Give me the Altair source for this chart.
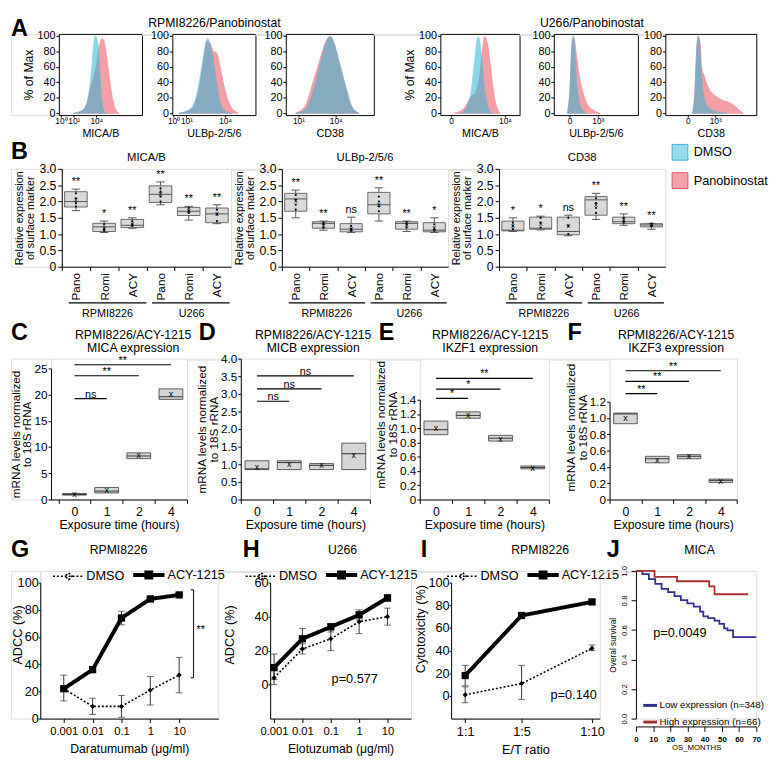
import altair as alt
import pandas as pd

FONT = "Liberation Sans"

# ======================= DATA =======================
# ---- A: flow cytometry overlays (x = position along displayed channel axis 0-100, y = % of Max)
A_xtitles = ["MICA/B", "ULBp-2/5/6", "CD38", "MICA/B", "ULBp-2/5/6", "CD38"]
A_tick_pos = [[2.5, 18, 45], [1.5, 17, 63.5], [14.4, 56.7], [13.6, 81.5], [18.6, 52.3], [24.7, 54.8]]
A_tick_lab = [["10⁰", "10¹", "10⁴"], ["10⁰", "10¹", "10⁴"], ["10¹", "10⁴"], ["0", "10⁴"], ["0", "10³"], ["0", "10³"]]
A_dmso_x = [
    [17, 27, 33, 37, 40, 42, 44, 46, 47.5, 49, 50.5, 52.5, 55, 58],
    [8, 22, 30, 36, 40, 42.4, 45.5, 49.4, 53.3, 57.3, 63, 71],
    [12, 23, 33, 40, 45.6, 50.4, 54.8, 60.4, 67.8, 75, 83],
    [26, 34.6, 38.7, 42.8, 46.1, 47.7, 50.2, 53.1, 56.4, 60.5, 65.4],
    [16, 19, 20.9, 22.9, 24.8, 26.7, 29.5, 33.3, 39],
    [30, 32.6, 34.4, 36.2, 38, 39.8, 42.7, 48, 57, 68],
]
A_dmso_y = [
    [0, 3, 11, 32, 64, 91, 100, 95, 85, 60, 32, 11, 2, 0],
    [0, 6, 27, 64, 89, 97, 89, 68, 40, 15, 3, 0],
    [0, 6, 36, 68, 91, 99, 91, 68, 36, 9, 0],
    [0, 11, 27, 64, 94, 99, 90, 60, 27, 7, 0],
    [0, 27, 80, 100, 88, 48, 20, 5, 0],
    [0, 27, 80, 100, 84, 48, 20, 7, 2, 0],
]
A_pano_x = [
    [19, 31, 39, 45, 48.6, 51.8, 53.7, 56.5, 60.4, 64.3, 68.2, 72.2],
    [8, 24, 32, 37.6, 41.6, 45.5, 49.4, 53.3, 57.3, 63, 69, 75, 79],
    [11, 22, 31, 38.5, 45.6, 50.4, 54.8, 60.4, 67.8, 75, 83],
    [18, 30.4, 38.7, 44.9, 49.8, 53.1, 56, 59.3, 63.4, 67.5, 71.6, 75.7],
    [16, 19, 21.7, 23.6, 26.7, 30.2, 35.3, 41.1, 48.8, 54.7],
    [30, 32.6, 34.8, 36.2, 38.4, 39.8, 42.7, 48, 53.4, 60.6, 71.3, 76.7, 82.1, 85.7],
]
A_pano_y = [
    [0, 6, 36, 60, 85, 96, 95, 80, 48, 20, 5, 0],
    [0, 6, 31, 68, 93, 90, 80, 78, 60, 31, 11, 3, 0],
    [0, 9, 40, 68, 93, 99, 90, 66, 34, 8, 0],
    [0, 7, 21, 27, 48, 80, 99, 90, 60, 25, 7, 0],
    [0, 27, 88, 98, 76, 48, 24, 9, 3, 0],
    [0, 31, 88, 99, 88, 60, 48, 31, 24, 18, 13, 9, 3, 0],
]
A_legend = ["DMSO", "Panobinostat"]

# ---- B: relative surface expression box plots
B_cells = ["RPMI8226", "U266"]
B_drugs = ["Pano", "Romi", "ACY", "Pano", "Romi", "ACY"]
B_titles = ["MICA/B", "ULBp-2/5/6", "CD38"]
B_lo = [[1.72, 1.05, 1.18, 1.90, 1.43, 1.32], [1.50, 1.12, 1.05, 1.40, 1.08, 1.05], [1.08, 1.13, 0.95, 1.45, 1.27, 1.15]]
B_q1 = [[1.83, 1.08, 1.20, 1.97, 1.57, 1.35], [1.70, 1.18, 1.07, 1.62, 1.15, 1.07], [1.10, 1.15, 0.98, 1.58, 1.32, 1.22]]
B_med = [[2.00, 1.22, 1.27, 2.22, 1.70, 1.62], [2.08, 1.33, 1.15, 1.90, 1.33, 1.12], [1.12, 1.18, 1.08, 2.05, 1.38, 1.28]]
B_q3 = [[2.30, 1.33, 1.45, 2.48, 1.82, 1.80], [2.25, 1.38, 1.32, 2.28, 1.38, 1.35], [1.40, 1.52, 1.52, 2.15, 1.52, 1.32]]
B_hi = [[2.38, 1.40, 1.50, 2.60, 1.85, 1.90], [2.35, 1.40, 1.52, 2.42, 1.40, 1.50], [1.50, 1.55, 1.58, 2.25, 1.62, 1.33]]
B_mean = [[2.05, 1.20, 1.32, 2.23, 1.70, 1.60], [2.00, 1.25, 1.15, 1.90, 1.28, 1.18], [1.25, 1.30, 1.25, 1.88, 1.42, 1.27]]
B_sig = [["**", "*", "**", "**", "**", "**"], ["**", "**", "ns", "**", "**", "*"], ["*", "*", "ns", "**", "**", "**"]]
B_dots = [
    [[2.25, 2.1, 1.95, 1.85], [1.3, 1.15, 1.1], [1.4, 1.3, 1.25], [2.4, 2.3, 2.15, 2.0], [1.8, 1.72, 1.65], [1.75, 1.6, 1.4]],
    [[2.2, 2.05, 1.9, 1.75], [1.35, 1.3, 1.2], [1.25, 1.15, 1.1], [2.15, 2.0, 1.85, 1.7], [1.37, 1.3, 1.2], [1.3, 1.15, 1.1]],
    [[1.35, 1.25, 1.15], [1.5, 1.35, 1.2], [1.5, 1.25, 1.0], [2.1, 1.95, 1.8, 1.65], [1.5, 1.4, 1.35], [1.32, 1.28, 1.25]],
]

# ---- C-F: mRNA levels after ACY-1215 exposure
CF_cats = ["0", "1", "2", "4"]
CF_gene = ["MICA expression", "MICB expression", "IKZF1 expression", "IKZF3 expression"]
CF_lo = [[0.85, 1.25, 7.8, 19.1], [0.85, 0.85, 0.85, 0.85], [0.91, 1.14, 0.82, 0.43], [0.93, 0.45, 0.50, 0.21]]
CF_hi = [[1.15, 2.3, 8.9, 21.1], [1.1, 1.1, 1.02, 1.6], [1.10, 1.23, 0.90, 0.47], [1.06, 0.53, 0.55, 0.25]]
CF_med = [[0.95, 1.6, 8.3, 19.6], [0.87, 1.05, 0.97, 1.3], [0.98, 1.18, 0.86, 0.45], [1.05, 0.50, 0.53, 0.235]]
CF_mean = [[1.0, 1.75, 8.4, 20.2], [0.93, 1.0, 0.97, 1.25], [1.0, 1.18, 0.85, 0.44], [1.0, 0.48, 0.53, 0.23]]
CF_sig_y = [[19.25, 23.6, 25.7], [2.79, 3.14, 3.51], [1.42, 1.55, 1.70], [1.30, 1.45, 1.58]]
CF_sig_txt = [["ns", "**", "**"], ["ns", "ns", "ns"], ["*", "*", "**"], ["**", "**", "**"]]
CF_yticks = [[0, 5, 10, 15, 20, 25], [0, 0.5, 1, 1.5, 2, 2.5, 3, 3.5, 4],
             [0, 0.2, 0.4, 0.6, 0.8, 1, 1.2, 1.4], [0, 0.2, 0.4, 0.6, 0.8, 1, 1.2]]

# ---- G-I: ADCC / cytotoxicity
SER = ["DMSO", "ACY-1215"]
G_x = [0.001, 0.01, 0.1, 1, 10]
G_dmso = [22, 9, 9, 21, 32]
G_dmso_lo = [13, 3, 1, 10, 19]
G_dmso_hi = [32, 15, 17, 31, 45]
G_acy = [22, 36, 74, 88, 91]
G_acy_lo = [21, 35, 69, 86, 90]
G_acy_hi = [23, 37, 79, 90, 92]
H_x = [0.001, 0.01, 0.1, 1, 10]
H_dmso = [4, 21, 27, 37, 40]
H_dmso_lo = [0, 18, 20, 30, 35]
H_dmso_hi = [9, 24, 33, 43, 45]
H_acy = [10, 27, 34, 41, 51]
H_acy_lo = [3, 21, 31, 38, 49]
H_acy_hi = [18, 33, 36, 44, 53]
I_x = [1, 5, 10]
I_lab = ["1:1", "1:5", "1:10"]
I_dmso = [1, 11, 42]
I_dmso_lo = [-6, -3, 40]
I_dmso_hi = [8, 27, 45]
I_acy = [18, 71, 83]
I_acy_lo = [9, 69, 81]
I_acy_hi = [27, 73, 85]

# ---- J: Kaplan-Meier (MICA)
J_groups = ["Low expression (n=348)", "High expression (n=66)"]
J_low_t = [0, 3.7, 7.5, 11.2, 14.9, 18.7, 22.4, 26.1, 29.9, 33.6, 37.3, 39.2, 42, 45.7, 48.5, 51.3, 53.2, 56.5, 70]
J_low_s = [1.0, 0.978, 0.945, 0.912, 0.879, 0.857, 0.829, 0.802, 0.78, 0.758, 0.725, 0.692, 0.681, 0.664, 0.642, 0.611, 0.598, 0.552, 0.552]
J_high_t = [0, 10.8, 23.9, 42.6, 45.7, 65.3]
J_high_s = [1.0, 0.96, 0.93, 0.895, 0.842, 0.842]

# ======================= HELPERS =======================
RES = dict(color="independent", fill="independent", stroke="independent", strokeDash="independent",
           strokeWidth="independent", shape="independent", size="independent")


def H(*c):
    return alt.hconcat(*c, spacing=0, bounds="flush").resolve_scale(**RES).resolve_legend(**RES)


SPD = pd.DataFrame({"s": [0]})


def sp(w, h=1):
    return alt.Chart(SPD).mark_point(opacity=0).encode(x=alt.value(0), y=alt.value(0)).properties(width=w, height=h)


def frame(w, h, above, below):
    # invisible left spacer that fixes the vertical extent of a row
    return alt.Chart(SPD).mark_rule(color="white", strokeWidth=0.5).encode(
        x=alt.value(0), y=alt.value(-above), y2=alt.value(h + below)).properties(width=w, height=h)


def txt(s, x, y, size=13, weight="normal", align="center", baseline="middle", color="black"):
    return alt.Chart(pd.DataFrame({"t": [s]})).mark_text(
        font=FONT, fontSize=size, fontWeight=weight, align=align, baseline=baseline, color=color
    ).encode(text="t:N", x=alt.value(x), y=alt.value(y))


def letter(s, x, y, baseline="middle"):
    return txt(s, x, y, size=24, weight="bold", align="left", baseline=baseline)


AXC = dict(domainColor="black", tickColor="black", labelColor="black", titleColor="black",
           grid=False, labelFont=FONT, titleFont=FONT, titleFontWeight="normal")

# ======================= PANEL A =======================
CYAN, PINK = "#2cb6d8", "#f0606e"
CYAN_L, RED_L = "#38b3d3", "#ea4858"
HA = 83


def hist_panel(k, w, ytitle, extra=()):
    dm = pd.DataFrame({"x": A_dmso_x[k], "y": A_dmso_y[k]}); dm["g"] = "DMSO"
    pn = pd.DataFrame({"x": A_pano_x[k], "y": A_pano_y[k]}); pn["g"] = "Panobinostat"
    pos, lab = A_tick_pos[k], A_tick_lab[k]
    lexpr = "[" + ",".join("'%s'" % s for s in lab) + "][indexof([" + ",".join(str(p) for p in pos) + "], datum.value)]"
    xa = alt.Axis(values=pos, labelExpr=lexpr, title=A_xtitles[k], labelFontSize=8.5, titleFontSize=11,
                  tickSize=2, labelPadding=0, titlePadding=2.5, domain=False, labelOverlap=False,
                  labelFlush=False, **AXC)
    ya = alt.Axis(values=[0, 20, 40, 60, 80, 100], title=ytitle, labelFontSize=11, titleFontSize=12.5,
                  tickSize=3, labelPadding=1, titlePadding=2, domain=False, **AXC)
    X = alt.X("x:Q", scale=alt.Scale(domain=[0, 100], nice=False, zero=False), axis=xa)
    Y = alt.Y("y:Q", stack=None, scale=alt.Scale(domain=[-2.4, 102.4], nice=False, zero=False), axis=ya)
    col = alt.Color("g:N", scale=alt.Scale(domain=A_legend, range=[CYAN, PINK]), legend=None)
    stk = alt.Stroke("g:N", scale=alt.Scale(domain=A_legend, range=[CYAN_L, RED_L]), legend=None)
    red = alt.Chart(pn).mark_area(opacity=0.6, interpolate="monotone", strokeWidth=0.8).encode(x=X, y=Y, color=col, stroke=stk)
    cy = alt.Chart(dm).mark_area(opacity=0.55, interpolate="monotone", strokeWidth=0.8).encode(x=X, y=Y, color=col, stroke=stk)
    return alt.layer(red, cy, *extra).properties(width=w, height=HA,
                                                  view=alt.ViewBackground(stroke="black", strokeWidth=1))


A1 = hist_panel(0, 85, "% of Max", [letter("A", -49, -17, baseline="top")])
A2 = hist_panel(1, 85, None, [txt("RPMI8226/Panobinostat", 43, -10.75, size=12.5)])
A3 = hist_panel(2, 90, None)
A4 = hist_panel(3, 81, "% of Max")
A5 = hist_panel(4, 86, None, [txt("U266/Panobinostat", 39, -10.75, size=12.5)])
A6 = hist_panel(5, 93, None)
rowA = H(frame(49, HA, 17, 24), A1, sp(31), A2, sp(31), A3, sp(68), A4, sp(35), A5, sp(28), A6)

# ======================= PANEL B =======================


def box_panel(k, w, extra=()):
    pos = [i + 0.5 for i in range(6)]
    df = pd.DataFrame({"p": pos, "a": [p - 0.4 for p in pos], "b": [p + 0.4 for p in pos],
                       "ca": [p - 0.15 for p in pos], "cb": [p + 0.15 for p in pos],
                       "lo": B_lo[k], "q1": B_q1[k], "med": B_med[k], "q3": B_q3[k], "hi": B_hi[k],
                       "mean": B_mean[k], "sig": B_sig[k]})
    dots = pd.DataFrame([{"p": pos[i], "v": v} for i in range(6) for v in B_dots[k][i]])
    grp = pd.DataFrame({"a": [0.25, 3.2], "b": [3.0, 5.95], "m": [1.62, 4.6], "y": [-1.11, -1.11], "t": B_cells})
    XS = alt.Scale(domain=[0, 6], nice=False, zero=False)
    YS = alt.Scale(domain=[0, 3], nice=False, zero=False)
    lexpr = "[" + ",".join("'%s'" % s for s in B_drugs) + "][datum.value]"
    xa = alt.Axis(values=[0, 1, 2, 3, 4, 5], labelExpr=lexpr, labelOffset=w / 12.0, labelAngle=270,
                  labelFontSize=12, tickSize=4, title=None, labelPadding=2, **AXC)
    ya = alt.Axis(values=[0, 0.5, 1, 1.5, 2, 2.5, 3],
                  labelExpr="datum.value == 0 ? '0' : format(datum.value, '.1f')",
                  labelFontSize=12.5, title=["Relative expression", "of surface marker"],
                  titleFontSize=11, titleLineHeight=11.5, titleX=-38.5, tickSize=4, labelPadding=2, **AXC)

    def X(f):
        return alt.X(f, type="quantitative", scale=XS, axis=xa)

    def Y(f):
        return alt.Y(f, type="quantitative", scale=YS, axis=ya)

    base = alt.Chart(df)
    whisk = base.mark_rule(color="#444", strokeWidth=0.9).encode(x=X("p"), y=Y("lo"), y2="hi")
    capl = base.mark_rule(color="#444", strokeWidth=0.9).encode(x=X("ca"), x2="cb", y=Y("lo"))
    caph = base.mark_rule(color="#444", strokeWidth=0.9).encode(x=X("ca"), x2="cb", y=Y("hi"))
    box = base.mark_rect(fill="#d9d9d9", stroke="#5a5a5a", strokeWidth=0.9).encode(x=X("a"), x2="b", y=Y("q1"), y2="q3")
    medl = base.mark_rule(color="#555", strokeWidth=1).encode(x=X("a"), x2="b", y=Y("med"))
    dts = alt.Chart(dots).mark_circle(size=5, color="black", opacity=1).encode(x=X("p"), y=Y("v"))
    mn = base.mark_text(text="x", fontSize=8, font=FONT, color="black").encode(x=X("p"), y=Y("mean"))
    sig = base.mark_text(fontSize=11, font=FONT, color="black", baseline="alphabetic", dy=-4).encode(x=X("p"), y=Y("hi"), text="sig:N")
    gl = alt.Chart(grp).mark_rule(color="black", strokeWidth=1.2).encode(x=X("a"), x2="b", y=Y("y"))
    gt = alt.Chart(grp).mark_text(fontSize=11, font=FONT, color="black", dy=11).encode(x=X("m"), y=Y("y"), text="t:N")
    title = txt(B_titles[k], w / 2.0, -11, size=11.5)
    return alt.layer(whisk, capl, caph, box, medl, dts, mn, sig, gl, gt, title, *extra).properties(width=w, height=100)


legA = alt.Legend(orient="none", legendX=176, legendY=-26, title=None, direction="vertical",
                  symbolType="square", symbolSize=260, labelFontSize=13, labelFont=FONT,
                  rowPadding=7, labelOffset=5, symbolStrokeWidth=1)
leg_layer = alt.Chart(pd.DataFrame({"g": A_legend})).transform_filter("false").mark_square(
    filled=True, opacity=1, strokeWidth=1).encode(
    fill=alt.Fill("g:N", scale=alt.Scale(domain=A_legend, range=["#97dcec", "#f5a3aa"]), legend=legA),
    stroke=alt.Stroke("g:N", scale=alt.Scale(domain=A_legend, range=["#3aaed0", "#ea4d5b"]), legend=legA))

B1 = box_panel(0, 173, [letter("B", -52, -17)])
B2 = box_panel(1, 170)
B3 = box_panel(2, 170, [leg_layer])
rowB = H(frame(52, 100, 29, 54), B1, sp(52), B2, sp(52), B3)

# ======================= PANELS C-F =======================
ROWC_H = 144


def mrna_panel(k, w, top, xdom, tx, tyY, tX, extra=()):
    pos = [i + 0.5 for i in range(4)]
    df = pd.DataFrame({"p": pos, "a": [p - 0.37 for p in pos], "b": [p + 0.37 for p in pos],
                       "lo": CF_lo[k], "hi": CF_hi[k], "med": CF_med[k], "mean": CF_mean[k]})
    sg = pd.DataFrame({"a": [0.5, 0.5, 0.5], "b": pos[1:], "m": [(0.5 + p) / 2 for p in pos[1:]],
                       "y": CF_sig_y[k], "t": CF_sig_txt[k]})
    ymax = CF_yticks[k][-1]
    XS = alt.Scale(domain=xdom, nice=False, zero=False)
    YS = alt.Scale(domain=[0, ymax], nice=False, zero=False, range=[ROWC_H, top])
    unit = w / float(xdom[1] - xdom[0])
    xa = alt.Axis(values=[0, 1, 2, 3, 4], labelExpr="['0','1','2','4',''][datum.value]", labelOffset=unit / 2.0,
                  labelFontSize=12.5, tickSize=4, title="Exposure time (hours)", titleFontSize=12.5,
                  labelPadding=2, titlePadding=1, labelFlush=False, **AXC)
    fmt = "datum.value == 0 ? '0' : format(datum.value, '%s')" % ("d" if k == 0 else ".1f")
    yextra = {} if tyY is None else {"titleY": tyY}
    ya = alt.Axis(values=CF_yticks[k], labelExpr=fmt, labelFontSize=12, tickSize=3,
                  title=["mRNA levels normalized", "to 18S rRNA"], titleFontSize=12, titleLineHeight=12,
                  titleX=tX, labelPadding=1, **yextra, **AXC)

    def X(f):
        return alt.X(f, type="quantitative", scale=XS, axis=xa)

    def Y(f):
        return alt.Y(f, type="quantitative", scale=YS, axis=ya)

    base = alt.Chart(df)
    box = base.mark_rect(fill="#d6d6d6", stroke="#4a4a4a", strokeWidth=0.9).encode(x=X("a"), x2="b", y=Y("lo"), y2="hi")
    medl = base.mark_rule(color="#333", strokeWidth=1).encode(x=X("a"), x2="b", y=Y("med"))
    mn = base.mark_text(text="x", fontSize=9, font=FONT, color="black").encode(x=X("p"), y=Y("mean"))
    sl = alt.Chart(sg).mark_rule(color="black", strokeWidth=1.2).encode(x=X("a"), x2="b", y=Y("y"))
    st = alt.Chart(sg).mark_text(fontSize=11, font=FONT, color="black", baseline="alphabetic", dy=-1).encode(x=X("m"), y=Y("y"), text="t:N")
    t1 = txt("RPMI8226/ACY-1215", tx, -24, size=12.5)
    t2 = txt(CF_gene[k], tx, -10.5, size=12.5)
    return alt.layer(box, medl, mn, sl, st, t1, t2, *extra).properties(width=w, height=ROWC_H)


C = mrna_panel(0, 139, 10, [-0.23, 4], 84, None, -29.5, [letter("C", -41, -26)])
D = mrna_panel(1, 132, 0, [0, 4], 74, None, -33, [letter("D", -43, -26)])
E = mrna_panel(2, 132, 42, [0, 4], 72, 67, -33, [letter("E", -42, -26)])
F = mrna_panel(3, 130, 44, [0, 4], 68, 70, -33, [letter("F", -43, -26)])
rowC = H(frame(41, ROWC_H, 38, 34), C, sp(55), D, sp(51), E, sp(62), F)

# ======================= PANELS G-I =======================
ROWG_H = 151
PATH_D = "M-1,0L1,0M0,-0.22L0.22,0L0,0.22L-0.22,0Z"
PATH_A = "M-1,0L1,0M-0.16,-0.16L0.16,-0.16L0.16,0.16L-0.16,0.16Z"


def dose_panel(xs, d, dlo, dhi, a, alo, ahi, XS, ydom, yvals, xa, ytitle, tX, tY, legX):
    rows = []
    for i, x in enumerate(xs):
        rows.append({"x": x, "y": d[i], "lo": dlo[i], "hi": dhi[i], "s": "DMSO"})
        rows.append({"x": x, "y": a[i], "lo": alo[i], "hi": ahi[i], "s": "ACY-1215"})
    df = pd.DataFrame(rows)
    YS = alt.Scale(domain=ydom, nice=False, zero=False, range=[ROWG_H, 12])
    ya = alt.Axis(values=yvals, labelFontSize=13, tickSize=2, labelPadding=0, title=ytitle,
                  titleFontSize=13, titleX=tX, titleY=tY, **AXC)

    def X(f):
        return alt.X(f, type="quantitative", scale=XS, axis=xa)

    def Y(f):
        return alt.Y(f, type="quantitative", scale=YS, axis=ya)

    base = alt.Chart(df)
    err = base.mark_rule(color="#333", strokeWidth=1).encode(x=X("x"), y=Y("lo"), y2="hi")
    c1 = base.mark_tick(orient="horizontal", size=7, thickness=1, color="#333").encode(x=X("x"), y=Y("lo"))
    c2 = base.mark_tick(orient="horizontal", size=7, thickness=1, color="#333").encode(x=X("x"), y=Y("hi"))
    line = base.mark_line(color="black").encode(
        x=X("x"), y=Y("y"),
        strokeDash=alt.StrokeDash("s:N", scale=alt.Scale(domain=SER, range=[[2, 2], [1, 0]]), legend=None),
        strokeWidth=alt.StrokeWidth("s:N", scale=alt.Scale(domain=SER, range=[1.6, 4]), legend=None))
    pts = base.mark_point(filled=True, color="black", opacity=1).encode(
        x=X("x"), y=Y("y"),
        shape=alt.Shape("s:N", scale=alt.Scale(domain=SER, range=["diamond", "square"]), legend=None),
        size=alt.Size("s:N", scale=alt.Scale(domain=SER, range=[28, 55]), legend=None))
    leg = alt.Legend(orient="none", legendX=legX, legendY=-14, direction="horizontal", title=None,
                     symbolSize=1024, symbolFillColor="black", symbolOpacity=1,
                     labelFontSize=13, labelFont=FONT, labelOffset=1, columnPadding=1)
    lg = base.transform_filter("false").mark_point(filled=False, color="black").encode(
        x=X("x"), y=Y("y"),
        shape=alt.Shape("s:N", scale=alt.Scale(domain=SER, range=[PATH_D, PATH_A]), legend=leg),
        strokeDash=alt.StrokeDash("s:N", scale=alt.Scale(domain=SER, range=[[2, 2], [1, 0]]), legend=leg),
        strokeWidth=alt.StrokeWidth("s:N", scale=alt.Scale(domain=SER, range=[1.6, 4]), legend=leg))
    return alt.layer(err, c1, c2, line, pts, lg).resolve_scale(
        shape="independent", strokeDash="independent", strokeWidth="independent", size="independent"
    ), X, Y


GXS = alt.Scale(type="log", domain=[1.536e-4, 227], nice=False)
gxa = alt.Axis(values=G_x, format="~g", labelFontSize=11.5, tickSize=4, labelPadding=3, title="Daratumumab (μg/ml)",
               titleFontSize=12.5, titlePadding=6, labelFlush=False, labelOverlap=False, **AXC)
G, GX, GY = dose_panel(G_x, G_dmso, G_dmso_lo, G_dmso_hi, G_acy, G_acy_lo, G_acy_hi, GXS, [0, 100],
                       [0, 20, 40, 60, 80, 100], gxa, "ADCC (%)", -16, 65, 12)
brk = pd.DataFrame({"x": [31.6, 25, 25], "x2": [31.6, 31.6, 31.6], "y": [30, 94.7, 30], "y2": [94.7, 94.7, 30]})
G = alt.layer(
    G,
    alt.Chart(brk).mark_rule(color="black", strokeWidth=1).encode(x=GX("x"), x2="x2", y=GY("y"), y2="y2"),
    alt.Chart(pd.DataFrame({"x": [55.7], "y": [65], "t": ["**"]})).mark_text(fontSize=11, font=FONT).encode(x=GX("x"), y=GY("y"), text="t:N"),
    txt("RPMI8226", 80, -21, size=12.5),
    letter("G", -30, -21),
).properties(width=182, height=ROWG_H)

HXS = alt.Scale(type="log", domain=[7.28e-4, 67.3], nice=False)
hxa = alt.Axis(values=H_x, format="~g", labelFontSize=11.5, tickSize=4, labelPadding=3, title="Elotuzumab (μg/ml)",
               titleFontSize=12.5, titlePadding=6, labelFlush=False, labelOverlap=False, **AXC)
Hc, HX, HY = dose_panel(H_x, H_dmso, H_dmso_lo, H_dmso_hi, H_acy, H_acy_lo, H_acy_hi, HXS, [-20, 60],
                        [0, 20, 40, 60], hxa, "ADCC (%)", -34, 65, -26)
Hc = alt.layer(
    Hc,
    alt.Chart(pd.DataFrame({"x": [0.7], "y": [3], "t": ["p=0.577"]})).mark_text(fontSize=13, font=FONT).encode(x=HX("x"), y=HY("y"), text="t:N"),
    txt("U266", 74, -21, size=12.5),
    letter("H", -28, -21),
).properties(width=144, height=ROWG_H)

IXS = alt.Scale(domain=[0, 10.55], nice=False, zero=False)
ilexpr = "[" + ",".join("'%s'" % s for s in I_lab) + "][indexof([" + ",".join(str(v) for v in I_x) + "], datum.value)]"
ixa = alt.Axis(values=I_x, labelExpr=ilexpr, labelFontSize=13, tickSize=4, labelPadding=3, title="E/T ratio",
               titleFontSize=13, titlePadding=6, labelFlush=False, labelOverlap=False, **AXC)
Ic, IX, IY = dose_panel(I_x, I_dmso, I_dmso_lo, I_dmso_hi, I_acy, I_acy_lo, I_acy_hi, IXS, [-20, 100],
                        [0, 20, 40, 60, 80, 100], ixa, "Cytotoxicity (%)", -24, 59, -5)
Ic = alt.layer(
    Ic,
    alt.Chart(pd.DataFrame({"x": [8.7], "y": [1], "t": ["p=0.140"]})).mark_text(fontSize=13, font=FONT).encode(x=IX("x"), y=IY("y"), text="t:N"),
    txt("RPMI8226", 91, -21, size=12.5),
    letter("I", -31, -21),
).properties(width=152, height=ROWG_H)

# ======================= PANEL J =======================
jrows = [{"t": t, "s": s, "g": J_groups[0]} for t, s in zip(J_low_t, J_low_s)] + \
        [{"t": t, "s": s, "g": J_groups[1]} for t, s in zip(J_high_t, J_high_s)]
jdf = pd.DataFrame(jrows)
jxa = alt.Axis(values=[0, 10, 20, 30, 40, 50, 60, 70], labelFontSize=8, labelFontWeight="bold", tickSize=5,
               labelPadding=4, title="OS_MONTHS", titleFontSize=8, titlePadding=1, offset=8, labelFlush=False, **AXC)
jya = alt.Axis(values=[0, 0.2, 0.4, 0.6, 0.8, 1.0], format=".1f", labelAngle=270, labelFontSize=8, tickSize=5,
               labelPadding=3, title="Overal survival", titleFontSize=8.5, titlePadding=3, **AXC)
JXS = alt.Scale(domain=[0, 70], nice=False, zero=False)
JYS = alt.Scale(domain=[0, 1], nice=False, zero=False)
jleg = alt.Legend(orient="none", legendX=6, legendY=129, title=None, direction="vertical", symbolType="stroke",
                  symbolSize=196, symbolStrokeWidth=3, labelFontSize=10, labelFont=FONT, rowPadding=2, labelOffset=1)
J = alt.layer(
    alt.Chart(jdf).mark_line(interpolate="step-after", strokeWidth=1.8).encode(
        x=alt.X("t:Q", scale=JXS, axis=jxa), y=alt.Y("s:Q", scale=JYS, axis=jya),
        color=alt.Color("g:N", scale=alt.Scale(domain=J_groups, range=["#2e2f8e", "#a8302f"]), legend=jleg)),
    alt.Chart(pd.DataFrame({"x": [25.6], "y": [0.58], "t": ["p=0.0049"]})).mark_text(fontSize=13, font=FONT).encode(
        x=alt.X("x:Q", scale=JXS, axis=jxa), y=alt.Y("y:Q", scale=JYS, axis=jya), text="t:N"),
    txt("MICA", 65, -21, size=12.5),
    letter("J", -30, -21),
).properties(width=123, height=ROWG_H)

rowG = H(frame(30, ROWG_H, 37, 41), G, sp(53), Hc, sp(41), Ic, sp(37), J)

chart = alt.vconcat(rowA, rowB, rowC, rowG, spacing=0).resolve_scale(**RES).resolve_legend(**RES).properties(
    padding=0
).configure_view(stroke=None).configure(font=FONT)

chart.save("out.html", embed_options={"renderer": "svg", "actions": False})
